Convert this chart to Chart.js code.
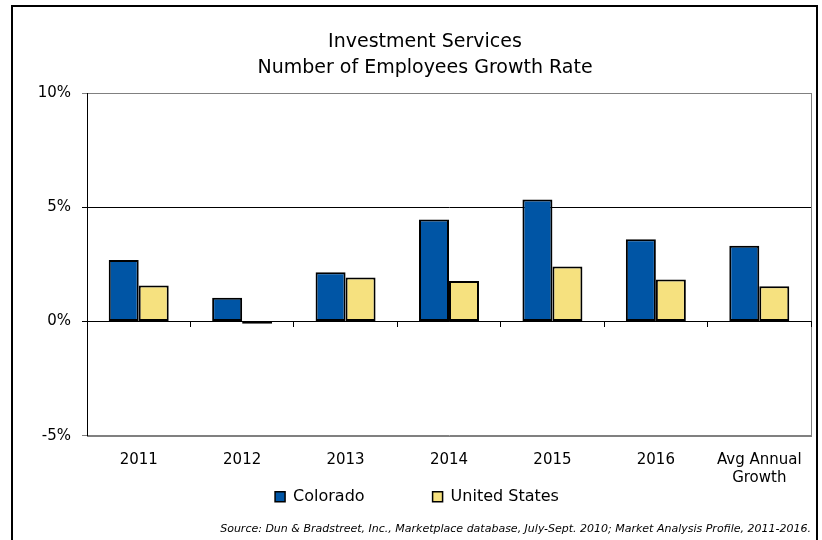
<!DOCTYPE html>
<html>
<head>
<meta charset="utf-8">
<script src="https://cdn.jsdelivr.net/npm/chart.js@4/dist/chart.umd.min.js"></script>
<style>
  html, body { margin: 0; padding: 0; background: #fff; overflow: hidden; }
  #frame { position: absolute; left: 11px; top: 5px; width: 803px; height: 600px; border: 2px solid #000; }
  #wrap { position: absolute; left: 0; top: 0; width: 822px; height: 540px; }
</style>
</head>
<body>
<div id="frame"></div>
<div id="wrap"><canvas id="growthChart"></canvas></div>
<script>
// Investment Services — employee growth rate, Colorado vs United States

const CATEGORIES = ["2011", "2012", "2013", "2014", "2015", "2016", ["Avg Annual", "Growth"]];
const COLORADO   = [2.69, 1.04, 2.16, 4.47, 5.34, 3.60, 3.32];
const US         = [1.58, -0.10, 1.93, 1.77, 2.41, 1.84, 1.55];
const Y_TICKS    = [-5, 0, 5, 10];

const FONT = "'DejaVu Sans', Verdana, sans-serif";

const COLORS = {
  colorado: "#0055A5",
  us:       "#F6E17F",
  frame:    "#808080",
};

// gray box round the plot area, drawn under the axes
const plotFrame = {
  id: "plotFrame",
  beforeDraw(chart) {
    const { ctx, chartArea: a } = chart;
    ctx.save();
    ctx.strokeStyle = COLORS.frame;
    ctx.lineWidth = 1;
    ctx.strokeRect(Math.round(a.left) + 0.5, Math.round(a.top) + 0.5,
                   Math.round(a.right - a.left), Math.round(a.bottom - a.top));
    ctx.restore();
  },
};

new Chart(document.getElementById("growthChart"), {
  type: "bar",
  data: {
    labels: CATEGORIES,
    datasets: [
      { label: "Colorado",      data: COLORADO, backgroundColor: COLORS.colorado },
      { label: "United States", data: US,       backgroundColor: COLORS.us },
    ],
  },
  options: {
    responsive: true,
    maintainAspectRatio: false,
    animation: false,
    categoryPercentage: 0.58,
    barPercentage: 1,
    elements: {
      bar: { borderColor: "#000", borderWidth: 2, borderSkipped: false },
    },
    layout: { padding: { top: 10, left: 39, right: 11, bottom: 4 } },
    plugins: {
      title: {
        display: true,
        text: ["Investment Services", "Number of Employees Growth Rate"],
        font: { family: FONT, size: 19, weight: "normal", lineHeight: 1.37 },
        color: "#000",
        padding: { top: 19, bottom: 12 },
      },
      subtitle: {
        display: true,
        position: "bottom",
        align: "end",
        text: "Source: Dun & Bradstreet, Inc., Marketplace database, July-Sept. 2010; Market Analysis Profile, 2011-2016.",
        font: { family: FONT, size: 11, style: "italic" },
        color: "#000",
        padding: { top: 8, bottom: 0 },
      },
      legend: {
        position: "bottom",
        labels: {
          font: { family: FONT, size: 16 },
          color: "#000",
          boxWidth: 10,
          boxHeight: 10,
          padding: 4,
          generateLabels(chart) {
            const items = Chart.defaults.plugins.legend.labels.generateLabels(chart);
            items.forEach(it => { it.strokeStyle = "#000"; it.lineWidth = 1.5; });
            items[0].text += "\u2003\u2003\u2003\u2003";
            items[1].text += "\u2003";
            return items;
          },
        },
      },
      tooltip: { enabled: false },
    },
    scales: {
      x: {
        afterFit(scale) { scale.height = 49; },
        ticks: { font: { family: FONT, size: 15 }, color: "#000", padding: 15, maxRotation: 0 },
        grid: { display: false, drawTicks: false },
        border: { display: false },
      },
      xZero: {
        type: "category",
        axis: "x",
        position: { y: 0 },
        labels: CATEGORIES,
        offset: true,
        ticks: { display: false },
        grid: { offset: true, drawOnChartArea: false, drawTicks: true, tickLength: 5, color: "#000" },
        border: { color: "#000", width: 1 },
      },
      y: {
        min: -5,
        max: 10,
        afterBuildTicks(scale) { scale.ticks = Y_TICKS.map(v => ({ value: v })); },
        afterFit(scale) { scale.width = 48; },
        ticks: {
          font: { family: FONT, size: 15 },
          color: "#000",
          padding: 11,
          callback: v => v + "%",
        },
        grid: {
          color: c => (c.tick && (c.tick.value === 0 || c.tick.value === 5)) ? "#000" : COLORS.frame,
          tickLength: 5,
        },
        border: { color: "#000", width: 1 },
      },
    },
  },
  plugins: [plotFrame],
});
</script>
</body>
</html>
